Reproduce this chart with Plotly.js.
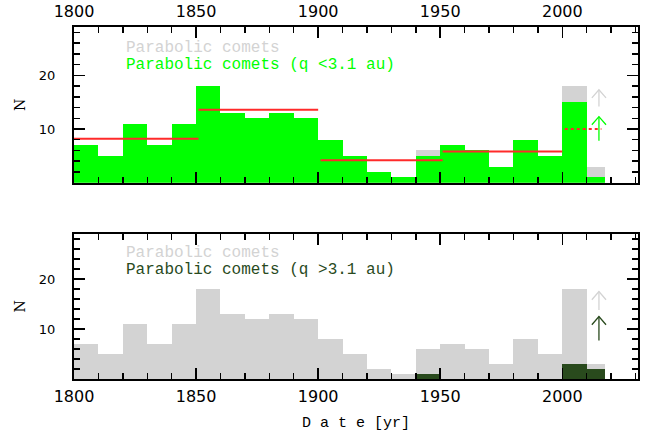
<!DOCTYPE html>
<html>
<head>
<meta charset="utf-8">
<script src="https://cdn.plot.ly/plotly-3.0.1.min.js"></script>
<style>
html,body{margin:0;padding:0;background:#fff;}
#chart{width:650px;height:432px;}
</style>
</head>
<body>
<div id="chart"></div>
<script>
// Histogram bin edges (decades; last bin is partial)
const binEdges = [1800,1810,1820,1830,1840,1850,1860,1870,1880,1890,1900,1910,1920,1930,1940,1950,1960,1970,1980,1990,2000,2010,2017.5];
// All parabolic comets per bin
const allComets = [7,5,11,7,11,18,13,12,13,12,8,5,2,1,6,7,6,3,8,5,18,3];
// Parabolic comets with q < 3.1 au
const innerComets = [7,5,11,7,11,18,13,12,13,12,8,5,2,1,5,7,6,3,8,5,15,1];
// Parabolic comets with q > 3.1 au
const outerComets = [0,0,0,0,0,0,0,0,0,0,0,0,0,0,1,0,0,0,0,0,3,2];

// Mean rates (q < 3.1 au) over periods
const periodStart = [1800,1851,1901,1951];
const periodEnd   = [1851,1900,1951,2000];
const periodMean  = [8.2,13.6,4.2,5.8];
// Projected rate (dotted)
const projStart = 2001, projEnd = 2016, projMean = 10;

// Arrows (lower limits) at 2015: [tail, tip]
const arrowX = 2015;
const topGrayArrow = [14.2, 17.3];
const topGreenArrow = [7.8, 12.3];
const botGrayArrow = [13.8, 17.5];
const botDarkArrow = [7.7, 12.5];

const GRAY = '#d3d3d3', GREEN = '#00ff00', DARK = '#294a1d', RED = '#ff2a2a';

const centers = allComets.map((_, i) => (binEdges[i] + binEdges[i+1]) / 2);
const widths  = allComets.map((_, i) => binEdges[i+1] - binEdges[i]);

function bars(y, color, xa, ya) {
  return {type:'bar', x:centers, y:y, width:widths, marker:{color:color, line:{width:0}},
          xaxis:xa, yaxis:ya, hoverinfo:'skip', showlegend:false};
}

const segX = [], segY = [];
periodStart.forEach((s, i) => { segX.push(s, periodEnd[i], null); segY.push(periodMean[i], periodMean[i], null); });

// open-chevron arrow (head size is a style, in axis units)
function arrowTrace(vals, color, xa, ya, headHalfW, headDepth) {
  const tail = vals[0], tip = vals[1];
  return {type:'scatter', mode:'lines', xaxis:xa, yaxis:ya, showlegend:false, hoverinfo:'skip',
    x:[arrowX, arrowX, null, arrowX - headHalfW, arrowX, arrowX + headHalfW],
    y:[tail, tip, null, tip - headDepth, tip, tip - headDepth],
    line:{color:color, width:1.3}};
}

const traces = [
  bars(allComets, GRAY, 'x', 'y'),
  bars(innerComets, GREEN, 'x', 'y'),
  {type:'scatter', mode:'lines', x:segX, y:segY, line:{color:RED, width:2}, xaxis:'x', yaxis:'y', showlegend:false, hoverinfo:'skip'},
  {type:'scatter', mode:'lines', x:[projStart, projEnd], y:[projMean, projMean], line:{color:RED, width:2, dash:'dot'}, xaxis:'x', yaxis:'y', showlegend:false, hoverinfo:'skip'},
  arrowTrace(topGrayArrow, GRAY, 'x', 'y', 2.9, 1.5),
  arrowTrace(topGreenArrow, GREEN, 'x', 'y', 2.9, 1.5),
  bars(allComets, GRAY, 'x2', 'y2'),
  bars(outerComets, DARK, 'x2', 'y2'),
  arrowTrace(botGrayArrow, GRAY, 'x2', 'y2', 2.9, 1.65),
  arrowTrace(botDarkArrow, DARK, 'x2', 'y2', 2.9, 1.65)
];

const tickFontX = {family:'DejaVu Sans', size:16, color:'#000'};
const tickFontY = {family:'DejaVu Sans', size:13, color:'#000'};

function xaxisDef(side, anchor) {
  return {
    range:[1800, 2031], side:side, anchor:anchor,
    tickvals:[1800,1850,1900,1950,2000], ticks:'inside', ticklen:11, tickwidth:1.5, tickcolor:'#000',
    minor:{dtick:10, tick0:1800, ticks:'inside', ticklen:6, tickwidth:1.5, tickcolor:'#000'},
    showline:true, linewidth:2, linecolor:'#000', mirror:'ticks',
    showgrid:false, zeroline:false, tickfont:tickFontX, ticklabelstandoff:2
  };
}
function yaxisDef(domain, anchor) {
  return {
    domain:domain, range:[0, 29], anchor:anchor,
    tickvals:[10,20], ticks:'inside', ticklen:11, tickwidth:1.5, tickcolor:'#000',
    minor:{dtick:2, tick0:0, ticks:'inside', ticklen:6, tickwidth:1.5, tickcolor:'#000'},
    showline:true, linewidth:2, linecolor:'#000', mirror:'ticks',
    showgrid:false, zeroline:false, tickfont:tickFontY, ticklabelstandoff:14,
    title:{text:'N', font:{family:'DejaVu Serif', size:14, color:'#000'}, standoff:10}
  };
}

const legFont = (c) => ({family:'Liberation Mono', size:16, color:c});

const layout = {
  width:650, height:432,
  margin:{l:74, r:12, t:27, b:53},
  paper_bgcolor:'#fff', plot_bgcolor:'#fff',
  barmode:'overlay', bargap:0, showlegend:false,
  xaxis: xaxisDef('top', 'y'),
  yaxis: yaxisDef([0.5577, 1], 'x'),
  xaxis2: Object.assign(xaxisDef('bottom', 'y2'), {
    title:{text:'D a t e [yr]', font:{family:'Liberation Mono', size:15, color:'#000'}, standoff:11}
  }),
  yaxis2: yaxisDef([0, 0.412], 'x2'),
  annotations:[
    {xref:'x', yref:'y', x:1820.5, y:25.1, xanchor:'left', yanchor:'middle', showarrow:false, text:'Parabolic comets', font:legFont(GRAY)},
    {xref:'x', yref:'y', x:1820.5, y:21.9, xanchor:'left', yanchor:'middle', showarrow:false, text:'Parabolic comets (q &lt;3.1 au)', font:legFont(GREEN)},
    {xref:'x2', yref:'y2', x:1820.5, y:25.2, xanchor:'left', yanchor:'middle', showarrow:false, text:'Parabolic comets', font:legFont(GRAY)},
    {xref:'x2', yref:'y2', x:1820.5, y:21.7, xanchor:'left', yanchor:'middle', showarrow:false, text:'Parabolic comets (q &gt;3.1 au)', font:legFont(DARK)}
  ]
};

Plotly.newPlot('chart', traces, layout, {displayModeBar:false, staticPlot:true});
</script>
</body>
</html>
